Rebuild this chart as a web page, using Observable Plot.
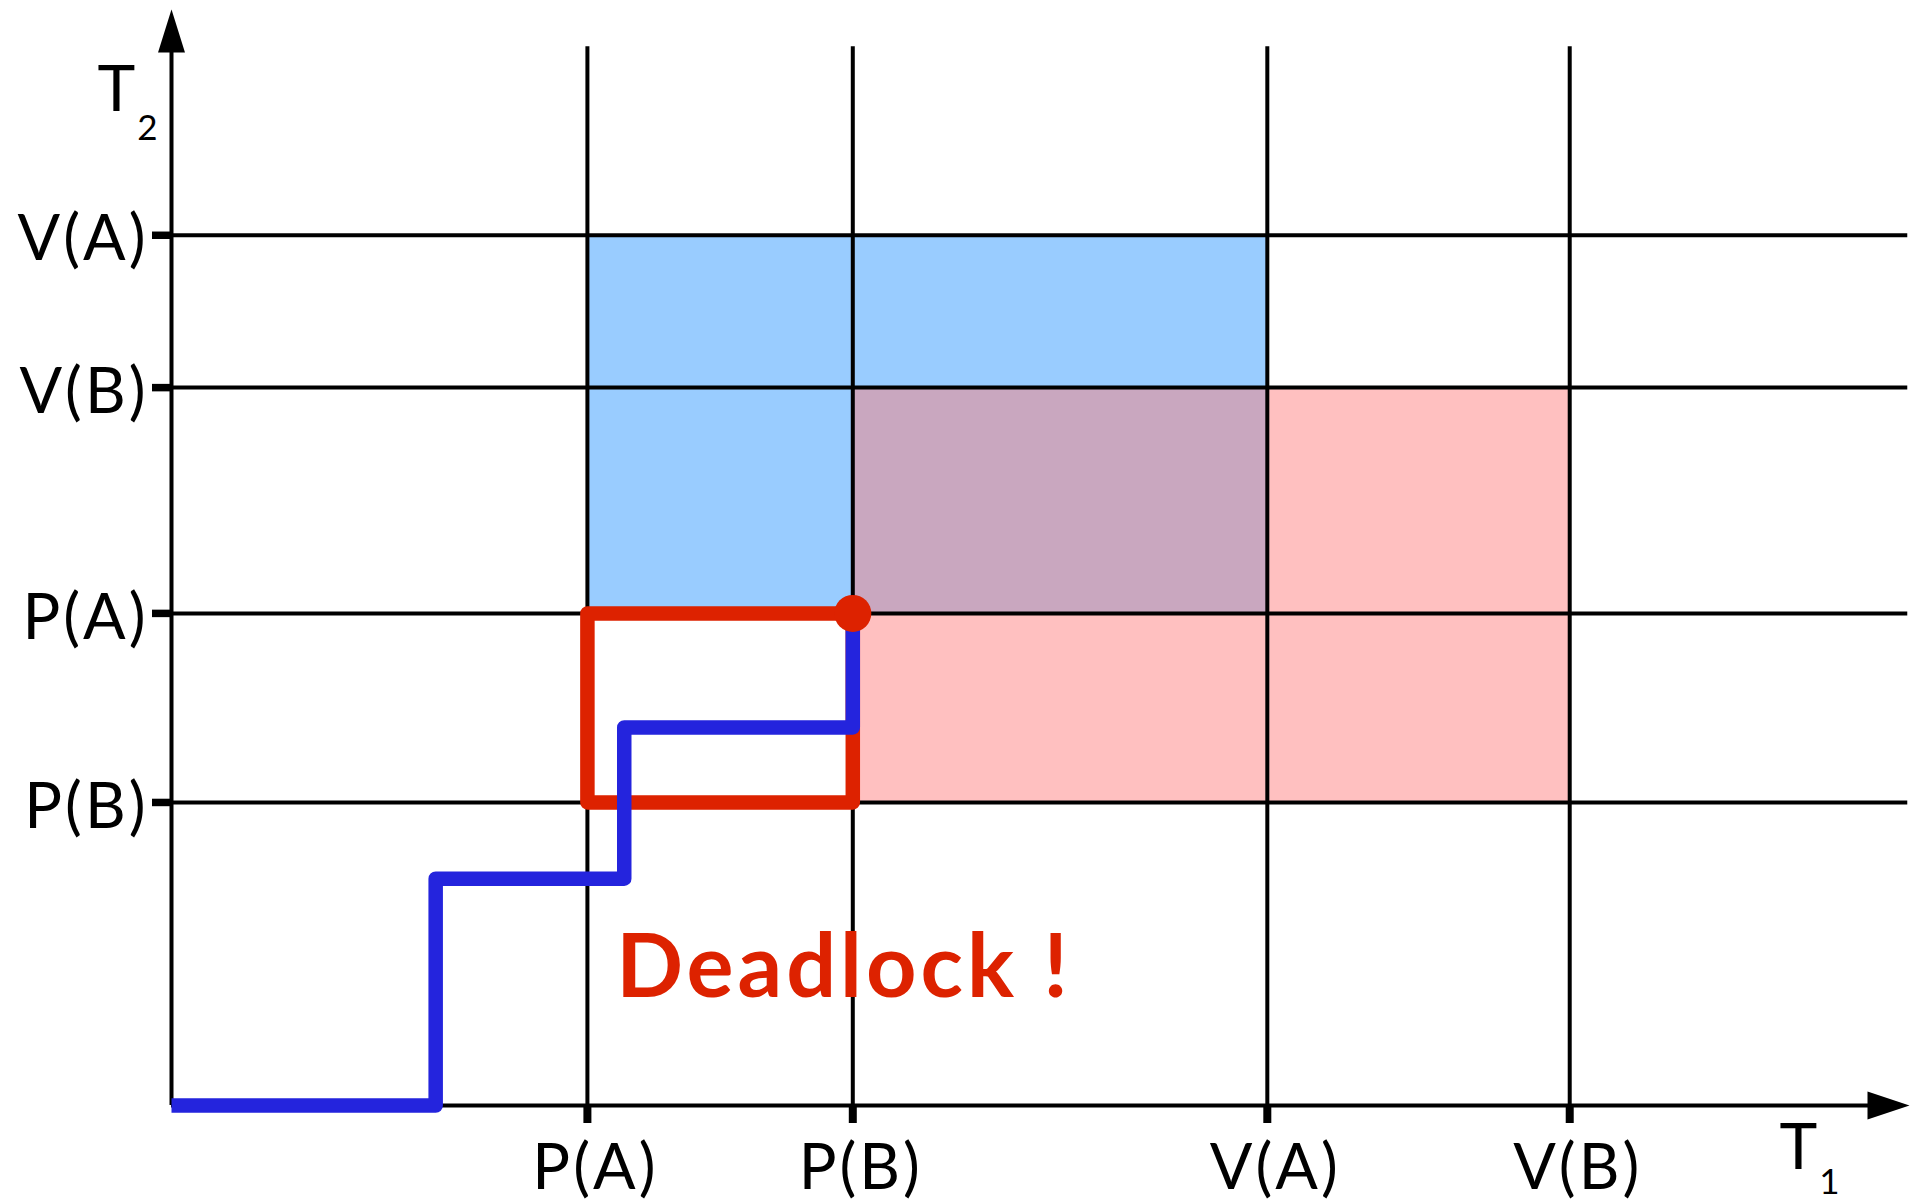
<!DOCTYPE html>
<html>
<head>
<meta charset="utf-8">
<script src="https://cdn.jsdelivr.net/npm/d3@7"></script>
<script src="https://cdn.jsdelivr.net/npm/@observablehq/plot@0.6"></script>
<style>
  html, body { margin: 0; padding: 0; background: #ffffff; }
  #chart svg { display: block; }
</style>
</head>
<body>
<div id="chart"></div>
<script>
// ---- Data (abstract progress units of T1 on x, T2 on y) ----
const xTickLabels = ["P(A)", "P(B)", "V(A)", "V(B)"];
const xTickValues = [23.93, 39.2, 63.05, 80.45];

const yTickLabels = ["P(B)", "P(A)", "V(B)", "V(A)"];
const yTickValues = [27.65, 44.9, 65.5, 79.4];

// Forbidden regions: lock A held by both (blue), lock B held by both (pink), overlap (purple)
const regionNames = ["A", "B", "AB"];
const regionX1 = [23.93, 39.2, 39.2];
const regionX2 = [63.05, 80.45, 63.05];
const regionY1 = [44.9, 27.65, 44.9];
const regionY2 = [79.4, 65.5, 65.5];
const regionFill = ["#99ccff", "#ffc0c0", "#c9a7bf"];

// Joint execution path (blue)
const pathX = [0, 15.2, 15.2, 26.05, 26.05, 39.2, 39.2];
const pathY = [0, 0, 20.7, 20.7, 34.5, 34.5, 44.9];

// Deadlock trap (red rectangle)
const trapX = [39.2, 23.93, 23.93, 39.2, 39.2];
const trapY = [44.9, 44.9, 27.65, 27.65, 44.9];

// Deadlock point
const deadlockPoint = [{x: 39.2, y: 44.9}];
const deadlockLabel = [{x: 38.7, y: 12.8, text: "Deadlock !"}];

// Axis extents
const axisMax = 100;
const gridTop = 96.6;
const gridRight = 99.9;

// ---- Build tables ----
const xTicks = xTickLabels.map((l, i) => ({label: l, v: xTickValues[i]}));
const yTicks = yTickLabels.map((l, i) => ({label: l, v: yTickValues[i]}));
const regions = regionNames.map((n, i) => ({
  name: n, x1: regionX1[i], x2: regionX2[i], y1: regionY1[i], y2: regionY2[i], fill: regionFill[i]
}));
const path = pathX.map((x, i) => ({x, y: pathY[i]}));
const trap = trapX.map((x, i) => ({x, y: trapY[i]}));

// custom filled arrowheads (tip at the anchor point)
const arrowUp = {draw(ctx) { ctx.moveTo(0, 0); ctx.lineTo(13.5, 43); ctx.lineTo(-13.5, 43); ctx.closePath(); }};
const arrowRight = {draw(ctx) { ctx.moveTo(0, 0); ctx.lineTo(-42, 14); ctx.lineTo(-42, -14); ctx.closePath(); }};

const font = "Lato, 'DejaVu Sans', sans-serif";

const chart = Plot.plot({
  width: 1918,
  height: 1202,
  marginLeft: 171,
  marginRight: 9,
  marginTop: 9,
  marginBottom: 97,
  x: {domain: [0, axisMax], axis: null},
  y: {domain: [0, axisMax], axis: null},
  style: {background: "#ffffff", fontFamily: font},
  marks: [
    // forbidden regions
    Plot.rect(regions, {x1: "x1", x2: "x2", y1: "y1", y2: "y2", fill: "fill"}),
    // grid lines
    Plot.ruleX(xTicks, {x: "v", y1: gridTop, y2: 0, stroke: "black", strokeWidth: 4}),
    Plot.ruleY(yTicks, {y: "v", x1: 0, x2: gridRight, stroke: "black", strokeWidth: 4}),
    // axes
    Plot.ruleX([0], {y1: axisMax, y2: 0, insetTop: 40, stroke: "black", strokeWidth: 4}),
    Plot.ruleY([0], {x1: 0, x2: axisMax, insetRight: 40, stroke: "black", strokeWidth: 4}),
    // tick marks
    Plot.ruleX(xTicks, {x: "v", y1: 0, y2: 0, insetBottom: -18, stroke: "black", strokeWidth: 8}),
    Plot.ruleY(yTicks, {y: "v", x1: 0, x2: 0, insetLeft: -19, stroke: "black", strokeWidth: 7.5}),
    // arrowheads
    Plot.dot([{x: 0, y: axisMax}], {x: "x", y: "y", symbol: arrowUp, fill: "black", stroke: null}),
    Plot.dot([{x: axisMax, y: 0}], {x: "x", y: "y", symbol: arrowRight, fill: "black", stroke: null}),
    // red trap rectangle
    Plot.line(trap, {x: "x", y: "y", stroke: "#dd2200", strokeWidth: 14.5, strokeLinejoin: "round", strokeLinecap: "round"}),
    // blue execution path
    Plot.line(path, {x: "x", y: "y", stroke: "#2424dd", strokeWidth: 14.5, strokeLinejoin: "round", strokeLinecap: "butt"}),
    // deadlock point
    Plot.dot(deadlockPoint, {x: "x", y: "y", r: 18.5, fill: "#dd2200", stroke: null}),
    // tick labels
    Plot.text(xTicks, {x: "v", y: 0, text: "label", dx: 8, dy: 63, fontSize: 63, fill: "black", textAnchor: "middle", fontFamily: font}),
    Plot.text(yTicks, {x: 0, y: "v", text: "label", dx: -23, dy: 5, fontSize: 63, fill: "black", textAnchor: "end", fontFamily: font}),
    // axis titles with subscripts
    Plot.text([{x: 0, y: axisMax}], {x: "x", y: "y", text: () => "T", dx: -55, dy: 81, fontSize: 64, fill: "black", fontFamily: font}),
    Plot.text([{x: 0, y: axisMax}], {x: "x", y: "y", text: () => "2", dx: -24, dy: 119, fontSize: 35, fill: "black", fontFamily: font}),
    Plot.text([{x: axisMax, y: 0}], {x: "x", y: "y", text: () => "T", dx: -111, dy: 43, fontSize: 64, fill: "black", fontFamily: font}),
    Plot.text([{x: axisMax, y: 0}], {x: "x", y: "y", text: () => "1", dx: -80, dy: 77, fontSize: 35, fill: "black", fontFamily: font}),
    // annotation
    Plot.text(deadlockLabel, {x: "x", y: "y", text: "text", dy: 4, fontSize: 88, fontWeight: "bold", fill: "#dd2200", textAnchor: "middle", fontFamily: font})
  ]
});

document.getElementById("chart").appendChild(chart);

// letter spacing to approximate the reference's wide geometric face
const svg = d3.select(chart);
svg.selectAll("text").filter(function() { return this.textContent === "Deadlock !"; })
  .attr("letter-spacing", "4px");
svg.selectAll("text").filter(function() { return /^[PV]\([AB]\)$/.test(this.textContent); })
  .attr("letter-spacing", "3px");
</script>
</body>
</html>
